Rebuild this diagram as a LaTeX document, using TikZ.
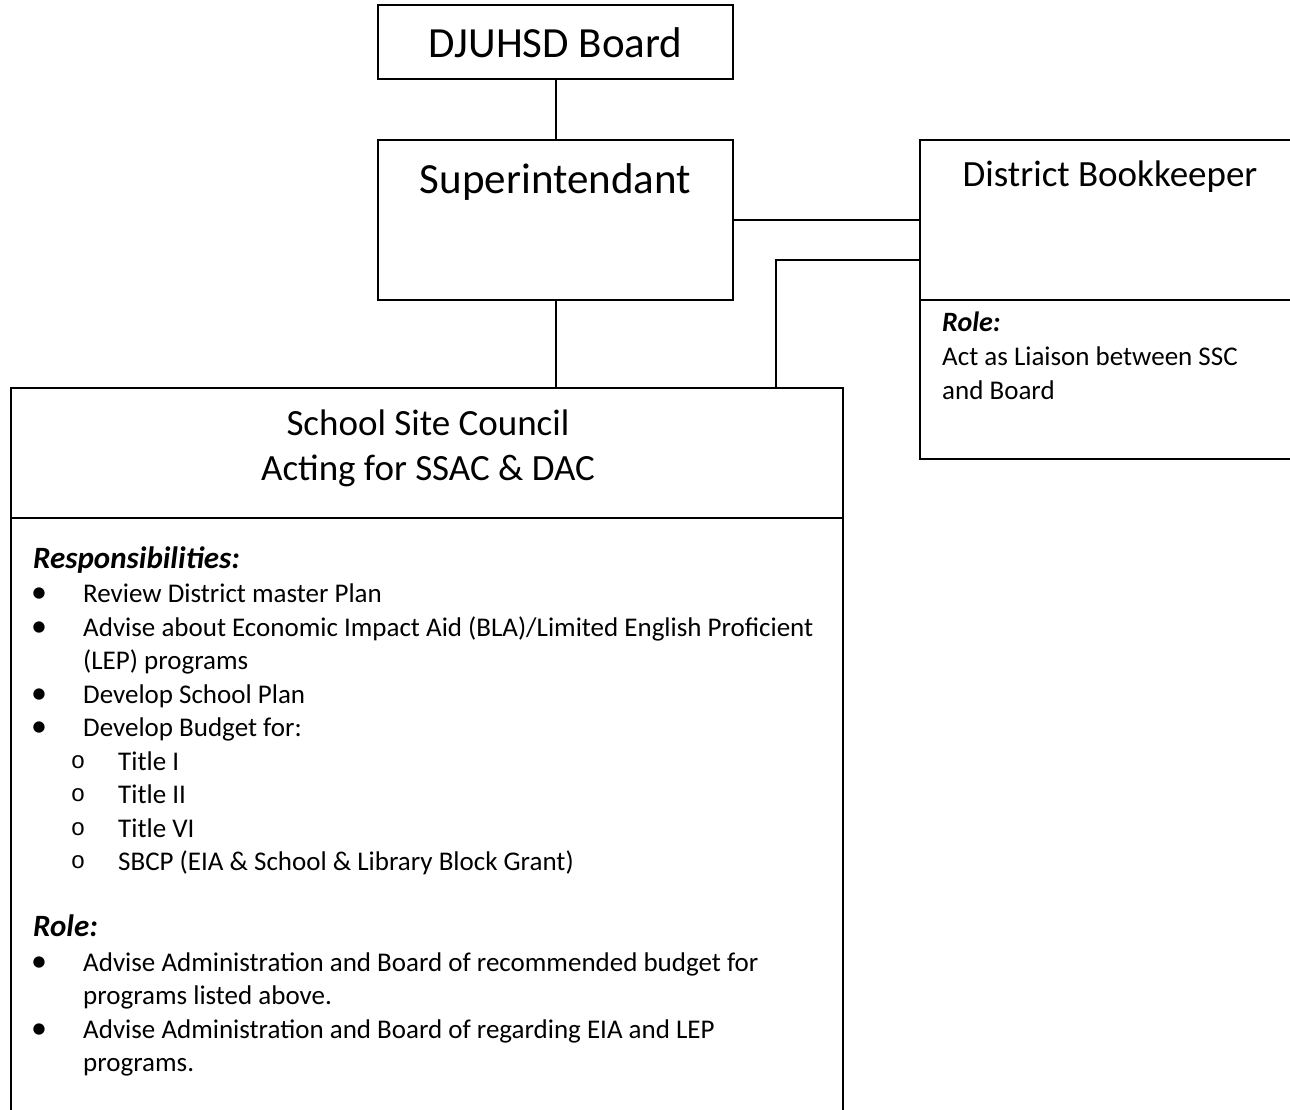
\documentclass[tikz,border=0pt]{standalone}
\usepackage{fontspec}
\setmainfont{Carlito}
\newfontfamily\bulletfont{Liberation Mono}
\usetikzlibrary{positioning}

\tikzset{
  box/.style={draw, line width=2pt, inner sep=0pt},
  bigtitle/.style={font=\fontsize{43}{52}\selectfont, anchor=base},
  midtitle/.style={font=\fontsize{37}{45}\selectfont, anchor=base},
  body/.style={font=\fontsize{27}{33.5}\selectfont, anchor=base west, inner sep=0pt},
  head/.style={font=\fontsize{31}{33.5}\selectfont\bfseries\itshape, anchor=base west, inner sep=0pt},
  dot/.style={font=\fontsize{32}{33.5}\selectfont, anchor=base, inner sep=0pt},
  link/.style={line width=2pt}
}

\begin{document}
\begin{tikzpicture}[x=1pt,y=-1pt]
\useasboundingbox (0,0) rectangle (1290,1110);

% boxes
\node[box, minimum width=355pt, minimum height=74pt] (board) at (555.5,42) {};
\node[box, minimum width=355pt, minimum height=160pt] (super) at (555.5,220) {};
\node[box, minimum width=380pt, minimum height=319pt] (book) at (1110,299.5) {};
\node[box, minimum width=832pt, minimum height=728pt] (ssc) at (427,752) {};

% titles
\node[bigtitle] (boardtxt) at (555.5,58) {DJUHSD Board};
\node[bigtitle] (supertxt) at (555.5,194) {Superintendant};
\node[midtitle] (booktxt) at (1110,187) {District Bookkeeper};
\node[midtitle] (ssctxt1) at (428,435) {School Site Council};
\node[midtitle] (ssctxt2) at (428,480) {Acting for SSAC \& DAC};

% dividers
\draw[link] (book.west |- 0,300) -- (book.east |- 0,300);
\draw[link] (ssc.west |- 0,518) -- (ssc.east |- 0,518);

% connectors
\draw[link] (board) -- (super);
\draw[link] (super) -- (super |- ssc.north);
\draw[link] (super.east) -- (super.east -| book.west);
\coordinate (bktap) at (book.west |- 0,260);
\coordinate (ssctap) at (776,388);
\draw[link] (bktap) -| (ssctap);

% bookkeeper role
\node[head, font=\fontsize{28}{33.5}\selectfont\bfseries\itshape] (bkrole) at (942,331) {Role:};
\node[body] (bkline1) at (942,365) {Act as Liaison between SSC};
\node[body] (bkline2) at (942,399) {and Board};

% council text, one line every 33.5
\foreach \i/\txt in {0/Responsibilities:, 11/Role:}
  \node[head] (h\i) at (33,{568+33.5*\i}) {\txt};
\foreach \i/\txt in {1/Review District master Plan,
    2/{Advise about Economic Impact Aid (BLA)/Limited English Proficient},
    4/Develop School Plan, 5/Develop Budget for:,
    12/Advise Administration and Board of recommended budget for,
    14/Advise Administration and Board of regarding EIA and LEP} {
  \node[dot] (d\i) at (39,{569+33.5*\i}) {\textbullet};
  \node[body] (t\i) at (83,{569+33.5*\i}) {\txt};
}
\foreach \i/\txt in {3/(LEP) programs, 13/programs listed above., 15/programs.}
  \node[body] (t\i) at (83,{569+33.5*\i}) {\txt};
\foreach \i/\txt in {6/Title I, 7/Title II, 8/Title VI,
    9/SBCP (EIA \& School \& Library Block Grant)} {
  \node[dot, font=\fontsize{24}{33.5}\bulletfont] (o\i) at (78,{567+33.5*\i}) {o};
  \node[body] (t\i) at (118,{569+33.5*\i}) {\txt};
}
\end{tikzpicture}
\end{document}
